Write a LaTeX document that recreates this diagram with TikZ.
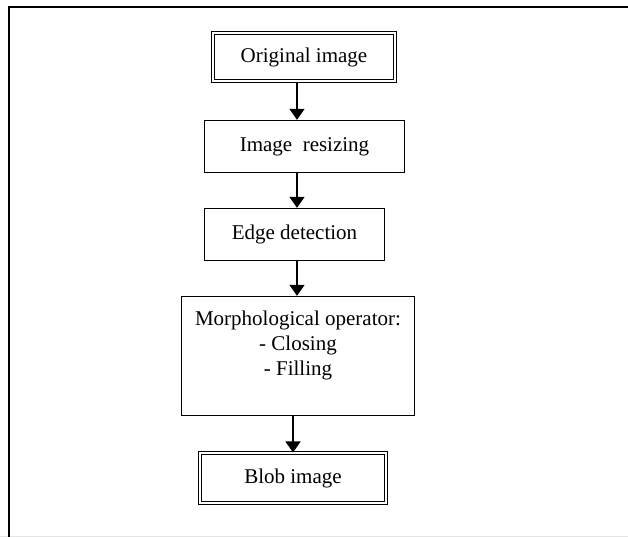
\documentclass[tikz,border=0pt]{standalone}
\usepackage{fontspec}
\setmainfont{Liberation Serif}
\usetikzlibrary{arrows.meta}

\begin{document}
\begin{tikzpicture}[x=1pt, y=-1pt, >={Triangle[width=15pt,length=11pt]},
    box/.style={draw, line width=1.3pt, inner sep=0pt, align=center, font=\fontsize{21}{25}\selectfont},
    dbox/.style={box, double, line width=1.1pt, double distance=2pt},
    arr/.style={->, line width=1.4pt}]
    \useasboundingbox (0,0) rectangle (628,537);

    % Rahmen
    \draw[gray!20, line width=0.8pt] (0,536.5) -- (628,536.5);
    \draw[black, line width=2pt] (628,7.5) -- (8.5,7.5) -- (8.5,537);

    % Schritte
    \node[dbox, minimum width=182pt, minimum height=48pt] (orig) at (304,57) {Original image};
    \node[box, minimum width=200pt, minimum height=52pt] (resize) at (304.5,146.5) {Image\ \ resizing};
    \node[box, minimum width=180pt, minimum height=52pt] (edge) at (294.5,234.5) {Edge detection};
    \node[box, minimum width=233pt, minimum height=119pt] (morph) at (298,356) {Morphological operator:\\- Closing\\- Filling\\\mbox{}};
    \node[dbox, minimum width=186pt, minimum height=50pt] (blob) at (293,478) {Blob image};

    % Pfeile
    \coordinate (ax) at (297,0);
    \coordinate (bx) at (293,0);
    \draw[arr] (orig.south -| ax) -- (resize.north -| ax);
    \draw[arr] (resize.south -| ax) -- (edge.north -| ax);
    \draw[arr] (edge.south -| ax) -- (morph.north -| ax);
    \draw[arr] (morph.south -| bx) -- (blob.north -| bx);
\end{tikzpicture}
\end{document}
